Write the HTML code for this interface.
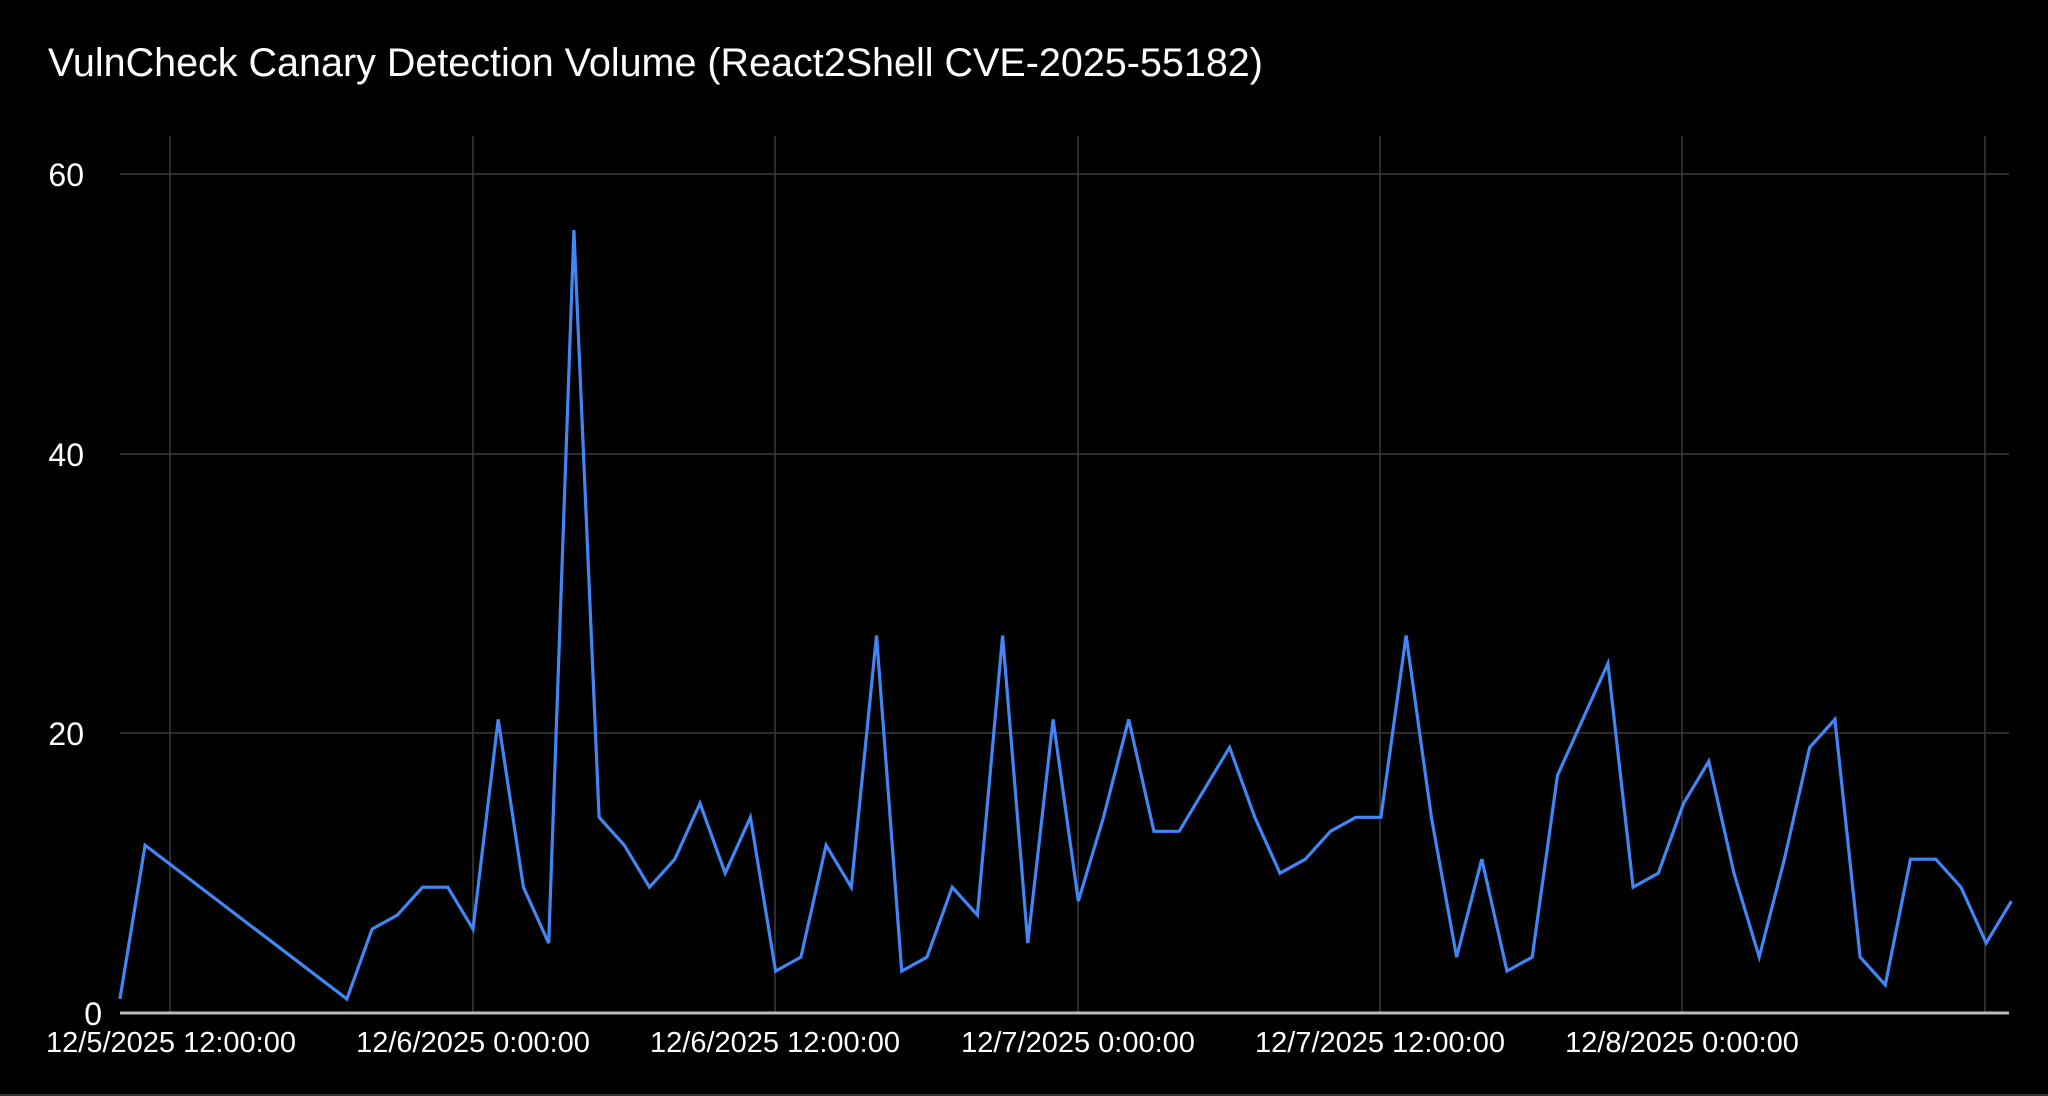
<!DOCTYPE html>
<html><head><style>html,body{margin:0;padding:0;background:#000;}svg{display:block}</style></head>
<body>
<svg width="2048" height="1096" viewBox="0 0 2048 1096" xmlns="http://www.w3.org/2000/svg" font-family="'Liberation Sans', Arial, sans-serif">
<rect width="2048" height="1096" fill="#000"/>
<text x="48" y="76" fill="#fff" font-size="39.5">VulnCheck Canary Detection Volume (React2Shell CVE-2025-55182)</text>
<g stroke="#3a3a3a" stroke-width="1.5">
<line x1="120" y1="174" x2="2009" y2="174"/>
<line x1="120" y1="454" x2="2009" y2="454"/>
<line x1="120" y1="733" x2="2009" y2="733"/>
<line x1="170" y1="136" x2="170" y2="1013"/>
<line x1="473" y1="136" x2="473" y2="1013"/>
<line x1="775" y1="136" x2="775" y2="1013"/>
<line x1="1078" y1="136" x2="1078" y2="1013"/>
<line x1="1380" y1="136" x2="1380" y2="1013"/>
<line x1="1682" y1="136" x2="1682" y2="1013"/>
<line x1="1985" y1="136" x2="1985" y2="1013"/>
</g>
<line x1="120" y1="1013" x2="2009" y2="1013" stroke="#bbb" stroke-width="3"/>
<line x1="0" y1="1095" x2="2048" y2="1095" stroke="#333" stroke-width="2"/>
<g fill="#fff" font-size="32" text-anchor="end">
<text x="84" y="186">60</text>
<text x="84" y="466">40</text>
<text x="84" y="745">20</text>
<text x="102" y="1025">0</text>
</g>
<g fill="#fff" font-size="29" text-anchor="middle">
<text x="171" y="1052">12/5/2025 12:00:00</text>
<text x="473" y="1052">12/6/2025 0:00:00</text>
<text x="775" y="1052">12/6/2025 12:00:00</text>
<text x="1078" y="1052">12/7/2025 0:00:00</text>
<text x="1380" y="1052">12/7/2025 12:00:00</text>
<text x="1682" y="1052">12/8/2025 0:00:00</text>
</g>
<polyline id="p" fill="none" stroke="#4285f4" stroke-width="3.2" stroke-linejoin="miter" points=""/>
<script>
var d=[[-14,1],[-13,12],[-5,1],[-4,6],[-3,7],[-2,9],[-1,9],
[0,6],[1,21],[2,9],[3,5],[4,56],[5,14],[6,12],[7,9],[8,11],[9,15],[10,10],[11,14],[12,3],[13,4],[14,12],[15,9],[16,27],[17,3],[18,4],[19,9],[20,7],[21,27],[22,5],[23,21],[24,8],[25,14],[26,21],[27,13],[28,13],[29,16],[30,19],[31,14],[32,10],[33,11],[34,13],[35,14],[36,14],[37,27],[38,14],[39,4],[40,11],[41,3],[42,4],[43,17],
[45,25],[46,9],[47,10],[48,15],[49,18],[50,10],[51,4],[52,11],[53,19],[54,21],[55,4],[56,2],[57,11],[58,11],[59,9],[60,5],[61,8]];
var s=d.map(function(p){return (473+p[0]*25.22).toFixed(1)+","+(1013-p[1]*13.98).toFixed(1)}).join(" ");
document.getElementById("p").setAttribute("points",s);
</script>
</svg>
</body></html>
